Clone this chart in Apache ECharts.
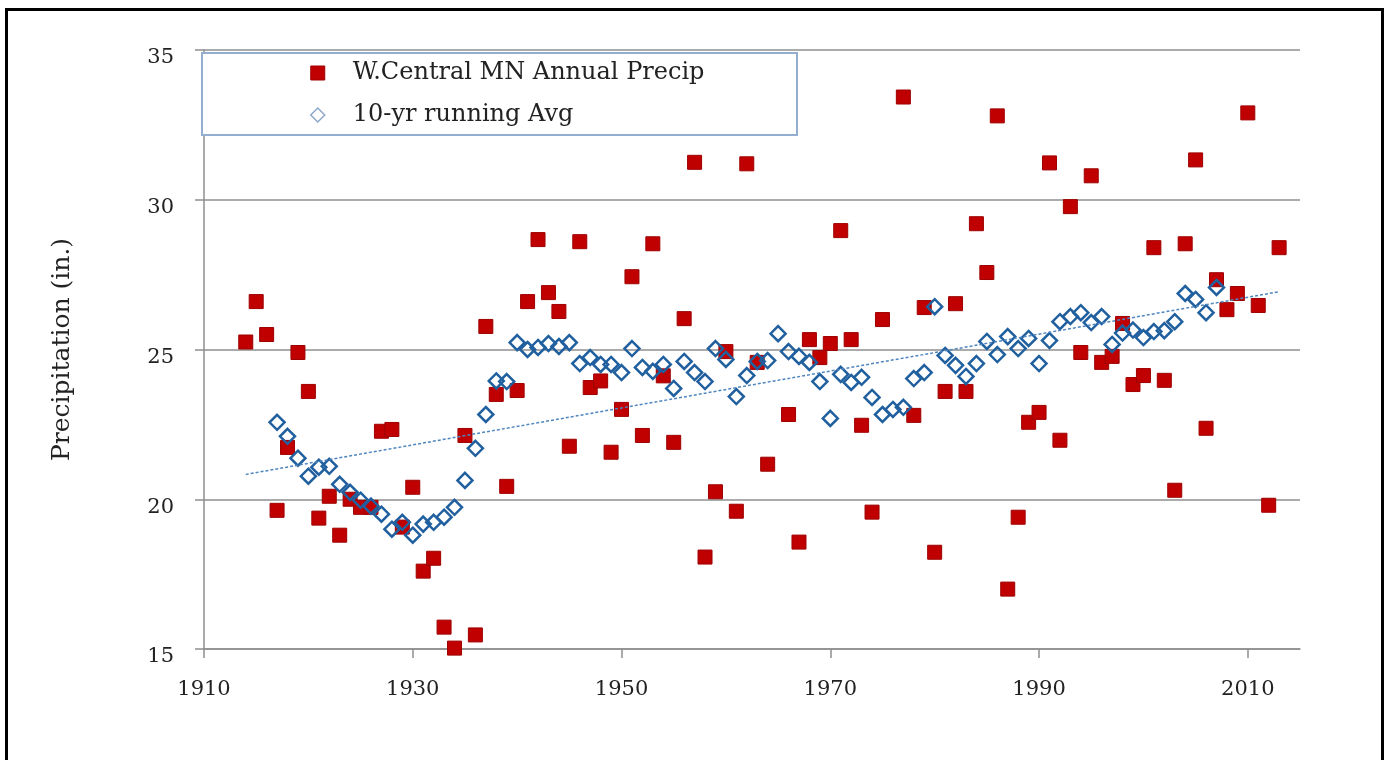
<!DOCTYPE html>
<html>
<head>
<meta charset="utf-8">
<title>W.Central MN Annual Precip</title>
<script src="https://cdn.jsdelivr.net/npm/echarts@6/dist/echarts.min.js"></script>
<style>
  html, body { margin: 0; padding: 0; background: #fff; }
  #main { width: 1387px; height: 760px; }
</style>
</head>
<body>
<div id="main"></div>
<script>
  // annual precipitation (in.); 1976 falls below the axis
  const precipYears = [
    1914, 1915, 1916, 1917, 1918, 1919, 1920, 1921, 1922, 1923,
    1924, 1925, 1926, 1927, 1928, 1929, 1930, 1931, 1932, 1933,
    1934, 1935, 1936, 1937, 1938, 1939, 1940, 1941, 1942, 1943,
    1944, 1945, 1946, 1947, 1948, 1949, 1950, 1951, 1952, 1953,
    1954, 1955, 1956, 1957, 1958, 1959, 1960, 1961, 1962, 1963,
    1964, 1965, 1966, 1967, 1968, 1969, 1970, 1971, 1972, 1973,
    1974, 1975, 1976, 1977, 1978, 1979, 1980, 1981, 1982, 1983,
    1984, 1985, 1986, 1987, 1988, 1989, 1990, 1991, 1992, 1993,
    1994, 1995, 1996, 1997, 1998, 1999, 2000, 2001, 2002, 2003,
    2004, 2005, 2006, 2007, 2008, 2009, 2010, 2011, 2012, 2013
  ]
  const precipValues = [
    25.25, 26.6, 25.5, 19.63, 21.73, 24.9, 23.6, 19.37, 20.1, 18.8,
    20.0, 19.73, 19.73, 22.27, 22.33, 19.07, 20.4, 17.6, 18.03, 15.73,
    15.03, 22.13, 15.47, 25.77, 23.5, 20.43, 23.63, 26.6, 28.67, 26.9,
    26.27, 21.77, 28.6, 23.73, 23.95, 21.57, 23.0, 27.43, 22.13, 28.53,
    24.12, 21.9, 26.03, 31.25, 18.07, 20.25, 24.93, 19.6, 31.2, 24.57,
    21.17, 32.95, 22.83, 18.57, 25.33, 24.73, 25.2, 28.97, 25.33, 22.47,
    19.57, 26.0, null, 33.43, 22.8, 26.4, 18.23, 23.6, 26.53, 23.6,
    29.2, 27.57, 32.8, 17.0, 19.4, 22.57, 22.9, 31.23, 21.97, 29.77,
    24.9, 30.8, 24.57, 24.77, 25.87, 23.83, 24.13, 28.4, 23.97, 20.3,
    28.53, 31.33, 22.37, 27.33, 26.33, 26.87, 32.9, 26.47, 19.8, 28.4
  ]

  // 10-yr running average
  const avgYears = [
    1917, 1918, 1919, 1920, 1921, 1922, 1923, 1924, 1925, 1926,
    1927, 1928, 1929, 1930, 1931, 1932, 1933, 1934, 1935, 1936,
    1937, 1938, 1939, 1940, 1941, 1942, 1943, 1944, 1945, 1946,
    1947, 1948, 1949, 1950, 1951, 1952, 1953, 1954, 1955, 1956,
    1957, 1958, 1959, 1960, 1961, 1962, 1963, 1964, 1965, 1966,
    1967, 1968, 1969, 1970, 1971, 1972, 1973, 1974, 1975, 1976,
    1977, 1978, 1979, 1980, 1981, 1982, 1983, 1984, 1985, 1986,
    1987, 1988, 1989, 1990, 1991, 1992, 1993, 1994, 1995, 1996,
    1997, 1998, 1999, 2000, 2001, 2002, 2003, 2004, 2005, 2006,
    2007
  ]
  const avgValues = [
    22.57, 22.1, 21.37, 20.77, 21.07, 21.1, 20.5, 20.23, 19.97, 19.77,
    19.5, 19.0, 19.23, 18.8, 19.17, 19.23, 19.4, 19.73, 20.63, 21.7,
    22.83, 23.95, 23.93, 25.23, 25.0, 25.07, 25.2, 25.1, 25.23, 24.53,
    24.73, 24.5, 24.5, 24.23, 25.03, 24.4, 24.27, 24.5, 23.7, 24.6,
    24.23, 23.93, 25.03, 24.67, 23.43, 24.13, 24.6, 24.63, 25.53, 24.93,
    24.77, 24.57, 23.93, 22.7, 24.17, 23.9, 24.07, 23.4, 22.83, 23.0,
    23.07, 24.03, 24.23, 26.43, 24.8, 24.47, 24.1, 24.53, 25.27, 24.83,
    25.43, 25.03, 25.37, 24.53, 25.3, 25.93, 26.1, 26.23, 25.9, 26.1,
    25.17, 25.55, 25.65, 25.4, 25.6, 25.63, 25.93, 26.87, 26.67, 26.23,
    27.07
  ]

  // linear trend end points
  const trendYears = [1914, 2013]
  const trendValues = [20.83, 26.93]

  const xTicks = [1910, 1930, 1950, 1970, 1990, 2010]
  const seriesNames = ['W.Central MN Annual Precip', '10-yr running Avg']

  const FONT = 'DejaVu Serif'
  const GRID_GRAY = '#8f8f8f'

  const zip = (xs, ys) => xs.map((x, i) => [x, ys[i]])

  const chart = echarts.init(document.getElementById('main'), null, { renderer: 'canvas' })

  chart.setOption({
    backgroundColor: '#fff',
    animation: false,
    grid: {
      left: 204,
      right: 87,
      top: 50,
      bottom: 111,
      outerBoundsMode: 'none'
    },
    graphic: [
      {
        // black frame round the picture
        type: 'rect',
        silent: true,
        shape: { x: 6.5, y: 9.5, width: 1376, height: 800 },
        style: { fill: null, stroke: '#000', lineWidth: 3 }
      },
      {
        // legend box
        type: 'rect',
        silent: true,
        z: 10,
        shape: { x: 202, y: 53, width: 595, height: 82 },
        style: { fill: '#fff', stroke: '#93aece', lineWidth: 2 }
      }
    ],
    legend: {
      orient: 'vertical',
      left: 305,
      top: 53,
      z: 20,
      itemWidth: 14,
      itemHeight: 14,
      itemGap: 12,
      selectedMode: false,
      textStyle: {
        fontFamily: FONT,
        fontSize: 24,
        color: '#222',
        lineHeight: 30,
        padding: [0, 0, 0, 23]
      },
      data: [
        { name: seriesNames[0], icon: 'rect', itemStyle: { color: '#c00000', borderColor: '#a00000', borderWidth: 1 } },
        { name: seriesNames[1], icon: 'diamond', itemStyle: { color: '#fff', borderColor: '#8fa8c8', borderWidth: 1.5 } }
      ]
    },
    xAxis: {
      type: 'value',
      min: 1910,
      max: 2015,
      interval: 20,
      axisLine: { show: true, lineStyle: { color: GRID_GRAY, width: 1.5 } },
      axisTick: {
        show: true,
        length: 9,
        customValues: xTicks,
        lineStyle: { color: GRID_GRAY, width: 1.5 }
      },
      axisLabel: {
        customValues: xTicks,
        formatter: v => String(v),
        margin: 30,
        fontFamily: FONT,
        fontSize: 21,
        color: '#222'
      },
      splitLine: { show: false }
    },
    yAxis: {
      type: 'value',
      min: 15,
      max: 35,
      interval: 5,
      name: 'Precipitation (in.)',
      nameLocation: 'middle',
      nameGap: 129,
      nameTextStyle: {
        fontFamily: FONT,
        fontSize: 25,
        color: '#222'
      },
      axisLine: { show: true, lineStyle: { color: GRID_GRAY, width: 1.5 } },
      axisTick: { show: true, length: 9, lineStyle: { color: GRID_GRAY, width: 1.5 } },
      axisLabel: {
        margin: 30,
        color: '#222',
        formatter: '{v|{value}}',
        rich: {
          v: {
            fontFamily: FONT,
            fontSize: 21,
            color: '#222',
            padding: [16, 0, 0, 0]
          }
        }
      },
      splitLine: { show: true, lineStyle: { color: GRID_GRAY, width: 1.5 } }
    },
    series: [
      {
        name: seriesNames[0],
        type: 'scatter',
        symbol: 'rect',
        symbolSize: 14,
        z: 2,
        itemStyle: { color: '#c00000', borderColor: '#9e0000', borderWidth: 1, opacity: 1 },
        data: zip(precipYears, precipValues).filter(d => d[1] !== null)
      },
      {
        name: seriesNames[1],
        type: 'scatter',
        symbol: 'diamond',
        symbolSize: 15,
        z: 3,
        itemStyle: { color: 'rgba(255,255,255,0)', borderColor: '#21609f', borderWidth: 2.5, opacity: 1 },
        data: zip(avgYears, avgValues)
      },
      {
        name: 'trend',
        type: 'line',
        symbol: 'none',
        z: 4,
        silent: true,
        lineStyle: { color: '#4f86c0', width: 1.5, type: [3, 2] },
        data: zip(trendYears, trendValues)
      }
    ]
  })

  window.addEventListener('resize', function () {
    chart.resize()
  })
</script>
</body>
</html>
